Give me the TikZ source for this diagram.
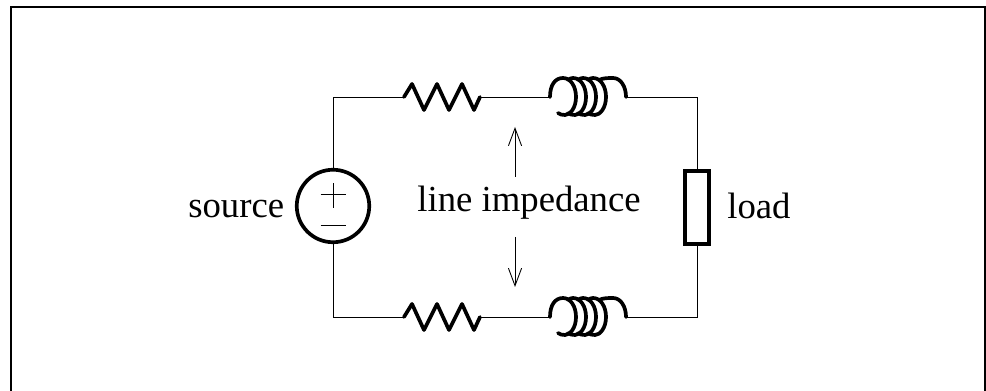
\documentclass[tikz,border=0pt]{standalone}
\usepackage{fontspec}
\setmainfont{Liberation Serif}
\usetikzlibrary{arrows.meta}
\tikzset{
  wire/.style={line width=0.5pt},
  heavy/.style={line width=2.1pt,line cap=round,line join=round},
  pointer/.style={line width=0.5pt,-{Straight Barb[length=10pt,width=7.5pt,line width=0.5pt]}},
  label/.style={inner sep=0pt,anchor=base west,font=\fontsize{20.9}{25}\selectfont},
  resistor/.pic={
    \draw[heavy] (0,0) -- (8,13) -- (20,-13) -- (33,13) -- (45,-13) -- (58,13) -- (70,-13) -- (76,0);
    \coordinate (-in) at (0,0);
    \coordinate (-out) at (76,0);
  },
  inductor/.pic={
    \draw[heavy] (0,0) .. controls (0,12) and (5,19) .. (13,19)
      .. controls (21,19) and (26,10) .. (26,0)
      .. controls (26,-11) and (20,-18) .. (15,-18)
      .. controls (12,-18) and (10,-17.5) .. (8,-16);
    \foreach \k in {10,20,30}
      \draw[heavy] (\k+8,17) .. controls (\k+10,18.5) and (\k+11,19) .. (\k+13,19)
        .. controls (\k+21,19) and (\k+26,10) .. (\k+26,0)
        .. controls (\k+26,-11) and (\k+20,-18) .. (\k+15,-18)
        .. controls (\k+12,-18) and (\k+10,-17.5) .. (\k+8,-16);
    \draw[heavy] (49,17) .. controls (53,19) and (58,19) .. (63,19)
      .. controls (71,19) and (76,10) .. (76,0);
    \coordinate (-in) at (0,0);
    \coordinate (-out) at (76,0);
  }
}
\begin{document}
\begin{tikzpicture}[x=0.02cm,y=0.02cm]
    \useasboundingbox (0,0) rectangle (986,391);
    \draw[line width=1.2pt] (11,-10) -- (11,384) -- (985,384) -- (985,-10);  % frame

    \node[draw,circle,line width=2.1pt,minimum size=1.45cm,inner sep=0pt] (source) at (333,185) {};
    \node[draw,rectangle,line width=2.1pt,minimum width=0.48cm,minimum height=1.46cm,inner sep=0pt] (load) at (697,183.5) {};
    \draw[wire] (320.5,197) -- (346,197);  % plus
    \draw[wire] (333,183) -- (333,208);
    \draw[wire] (320.5,166) -- (346,166);  % minus

    \pic (rtop) at (404,294) {resistor};
    \pic (ltop) at (550,294) {inductor};
    \pic (rbot) at (404,74) {resistor};
    \pic (lbot) at (550,74) {inductor};

    \draw[wire] (source) |- (rtop-in);     % source -- top resistor
    \draw[wire] (rtop-out) -- (ltop-in);   % top resistor -- top inductor
    \draw[wire] (ltop-out) -| (load);      % top inductor -- load
    \draw[wire] (source) |- (rbot-in);     % source -- bottom resistor
    \draw[wire] (rbot-out) -- (lbot-in);   % bottom resistor -- bottom inductor
    \draw[wire] (lbot-out) -| (load);      % bottom inductor -- load

    \node[label] (sourcetext) at (188,173) {source};
    \node[label] (linetext) at (417,179) {line impedance};
    \node[label] (loadtext) at (727,172) {load};
    \coordinate (uptop) at (515,264);
    \coordinate (downbot) at (515,104);
    \draw[pointer] (515,214) -- (uptop);     % line impedance -- up
    \draw[pointer] (515,154) -- (downbot);   % line impedance -- down
\end{tikzpicture}
\end{document}
